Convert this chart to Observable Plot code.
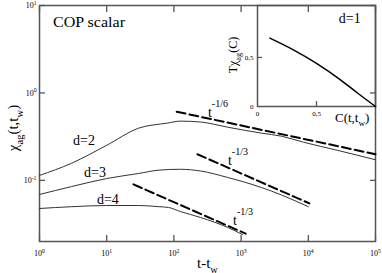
<!DOCTYPE html>
<html><head><meta charset="utf-8">
<script src="https://cdn.jsdelivr.net/npm/d3@7"></script>
<script src="https://cdn.jsdelivr.net/npm/@observablehq/plot@0.6"></script>
<style>
body{margin:0;background:#fff;}
#wrap{position:relative;width:382px;height:273px;background:#fff;}
#wrap svg{position:absolute;overflow:visible;}
#wrap svg, #wrap svg text{font-family:"Liberation Serif","Times New Roman","DejaVu Serif",serif !important;}
</style></head><body><div id="wrap"></div>
<script>
// ---- data ----
const xTicks = [1, 10, 100, 1000, 10000, 100000];
const xTickLabels = ["10^0", "10^1", "10^2", "10^3", "10^4", "10^5"];
const yTicks = [0.1, 1, 10];
const yTickLabels = ["10^-1", "10^0", "10^1"];

const d2T   = [1, 3, 10, 30, 80, 125, 250, 630, 2000, 4000, 8500, 27000, 100000];
const d2Chi = [0.114, 0.157, 0.252, 0.396, 0.452, 0.476, 0.465, 0.406, 0.347, 0.32, 0.273, 0.221, 0.172];
const d3T   = [1, 3, 10, 30, 60, 125, 250, 630, 2000, 4000, 10000];
const d3Chi = [0.069, 0.085, 0.105, 0.12, 0.131, 0.134, 0.128, 0.108, 0.083, 0.068, 0.05];
const d4T   = [1, 3, 10, 30, 60, 83, 125, 250, 630, 1050];
const d4Chi = [0.0477, 0.050, 0.0516, 0.0516, 0.050, 0.049, 0.044, 0.0376, 0.0290, 0.0240];

const dash16T = [110, 100000],  dash16Chi = [0.61, 0.199];
const dash13aT = [224, 10400],  dash13aChi = [0.199, 0.0545];
const dash13bT = [25, 1170],    dash13bChi = [0.090, 0.0246];

const curveLabels = ["d=2", "d=3", "d=4"];
const curveLabelT = [4.6, 6.7, 10.4];
const curveLabelChi = [0.284, 0.124, 0.0605];

const insetC    = [0.105, 0.3, 0.5, 0.7, 0.85, 1.0];
const insetTchi = [0.697, 0.58, 0.44, 0.275, 0.135, 0];
const insetXTicks = [0, 0.5], insetXTickLabels = ["0", "0,5"];
const insetYTicks = [0, 0.5], insetYTickLabels = ["0", "0,5"];

// ---- helpers ----
const FONT = '"Liberation Serif","Times New Roman","DejaVu Serif",serif';
const GRAY = "#555";
const pts = (xs, ys) => xs.map((x, i) => ({x, y: ys[i]}));

function supify(svg, selector) {
  d3.select(svg).selectAll(selector + " text").each(function() {
    const s = this.textContent;
    if (!s.includes("^")) return;
    const [base, exp] = s.split("^");
    const el = d3.select(this);
    el.text(null);
    el.append("tspan").text(base);
    el.append("tspan").attr("dy", "-0.55em").attr("font-size", "72%").text(exp);
  });
}

function rich(svg, x, y, parts, {size = 14, anchor = "start", rotate = 0, textLength = null} = {}) {
  const t = d3.select(svg).append("text")
    .style("font-family", FONT).attr("font-size", size)
    .attr("text-anchor", anchor).attr("fill", "black")
    .attr("transform", `translate(${x},${y})` + (rotate ? ` rotate(${rotate})` : ""));
  if (textLength) t.attr("textLength", textLength).attr("lengthAdjust", "spacingAndGlyphs");
  let off = 0;
  for (const [s, kind] of parts) {
    const sp = t.append("tspan").text(s);
    let target = 0;
    if (kind === "sup") { target = -size * 0.7; sp.attr("font-size", size * 0.72); }
    if (kind === "sub") { target = size * 0.3; sp.attr("font-size", size * 0.7); }
    if (target !== off) sp.attr("dy", target - off);
    off = target;
  }
  return t;
}

// ---- main plot ----
const tickStyle = {stroke: GRAY, strokeWidth: 1.3, label: null, tickFormat: () => ""};
const main = Plot.plot({
  width: 382, height: 273,
  marginLeft: 39, marginRight: 7, marginTop: 5, marginBottom: 32,
  style: {fontFamily: FONT, fontSize: "8px", background: "transparent", color: "black"},
  x: {type: "log", domain: [1, 1e5]},
  y: {type: "log", domain: [0.02, 10]},
  marks: [
    Plot.axisX({anchor: "bottom", ticks: xTicks, tickSize: -6, ...tickStyle}),
    Plot.axisX({anchor: "top", ticks: xTicks, tickSize: -6, ...tickStyle}),
    Plot.axisY({anchor: "left", ticks: yTicks, tickSize: -6, ...tickStyle}),
    Plot.axisY({anchor: "right", ticks: yTicks, tickSize: -6, ...tickStyle}),
    Plot.axisX({anchor: "bottom", ticks: xTicks, tickSize: 0, tickPadding: 9, label: null,
      tickFormat: d => xTickLabels[xTicks.indexOf(d)]}),
    Plot.axisY({anchor: "left", ticks: yTicks, tickSize: 0, tickPadding: 3, label: null,
      tickFormat: d => yTickLabels[yTicks.indexOf(d)]}),
    Plot.frame({stroke: GRAY, strokeWidth: 1.5}),
    Plot.line(pts(d2T, d2Chi), {x: "x", y: "y", stroke: "#333", strokeWidth: 1, curve: "monotone-x"}),
    Plot.line(pts(d3T, d3Chi), {x: "x", y: "y", stroke: "#333", strokeWidth: 1, curve: "monotone-x"}),
    Plot.line(pts(d4T, d4Chi), {x: "x", y: "y", stroke: "#333", strokeWidth: 1, curve: "monotone-x"}),
    Plot.line(pts(dash16T, dash16Chi), {x: "x", y: "y", stroke: "black", strokeWidth: 2, strokeDasharray: "9,4"}),
    Plot.line(pts(dash13aT, dash13aChi), {x: "x", y: "y", stroke: "black", strokeWidth: 2, strokeDasharray: "9,4"}),
    Plot.line(pts(dash13bT, dash13bChi), {x: "x", y: "y", stroke: "black", strokeWidth: 2, strokeDasharray: "9,4"}),
    Plot.text(curveLabels, {x: (d, i) => curveLabelT[i], y: (d, i) => curveLabelChi[i], text: d => d,
      fontSize: 14, lineAnchor: "middle", fill: "black"})
  ]
});
main.style.left = "0px"; main.style.top = "0px";
supify(main, '[aria-label="x-axis tick label"]');
supify(main, '[aria-label="y-axis tick label"]');

const sx = v => main.scale("x").apply(v), sy = v => main.scale("y").apply(v);
rich(main, 53, 27, [["COP scalar"]], {size: 14, textLength: 72});
rich(main, sx(327), sy(0.53), [["t"], ["-1/6", "sup"]], {size: 14});
rich(main, sx(649), sy(0.149), [["t"], ["-1/3", "sup"]], {size: 14});
rich(main, sx(771), sy(0.0304), [["t"], ["-1/3", "sup"]], {size: 14});
rich(main, 197, 268, [["t-t"], ["w", "sub"]], {size: 15});
rich(main, 18, 128, [["χ"], ["ag", "sub"], ["(t,t"], ["w", "sub"], [")"]], {size: 15, anchor: "middle", rotate: -90});
rich(main, 237, 55, [["Tχ"], ["ag", "sub"], ["(C)"]], {size: 12, anchor: "middle", rotate: -90});
rich(main, 335, 122, [["C(t,t"], ["w", "sub"], [")"]], {size: 13});

document.getElementById("wrap").appendChild(main);

// ---- inset ----
const inset = Plot.plot({
  width: 142, height: 130,
  marginLeft: 17, marginRight: 7, marginTop: 5, marginBottom: 24,
  style: {fontFamily: FONT, fontSize: "7px", background: "transparent", color: "black"},
  x: {domain: [0, 1]},
  y: {domain: [0, 1.03]},
  marks: [
    Plot.axisX({anchor: "bottom", ticks: [0.5], tickSize: -5, ...tickStyle}),
    Plot.axisY({anchor: "left", ticks: [0.5], tickSize: -5, ...tickStyle}),
    Plot.axisX({anchor: "bottom", ticks: insetXTicks, tickSize: 0, tickPadding: 5, label: null,
      tickFormat: d => insetXTickLabels[insetXTicks.indexOf(d)]}),
    Plot.axisY({anchor: "left", ticks: insetYTicks, tickSize: 0, tickPadding: 4, label: null,
      tickFormat: d => insetYTickLabels[insetYTicks.indexOf(d)]}),
    Plot.frame({stroke: GRAY, strokeWidth: 1.5}),
    Plot.line(pts(insetC, insetTchi), {x: "x", y: "y", stroke: "black", strokeWidth: 1.5, curve: "monotone-x"}),
    Plot.text(["d=1"], {x: 0.782, y: 0.893, text: d => d, fontSize: 14, lineAnchor: "middle", fill: "black"})
  ]
});
inset.style.left = "240px"; inset.style.top = "0px";
document.getElementById("wrap").appendChild(inset);
</script></body></html>
